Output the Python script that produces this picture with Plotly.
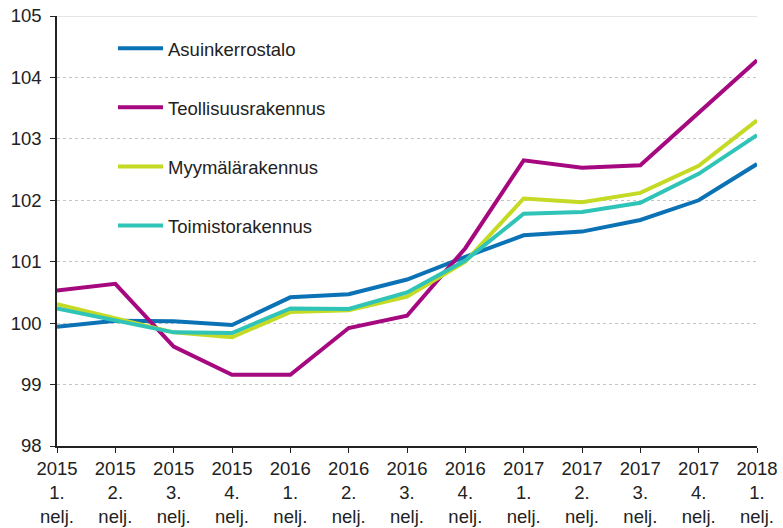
import plotly.graph_objects as go

quarters = ["2015<br>1.<br>nelj.", "2015<br>2.<br>nelj.", "2015<br>3.<br>nelj.", "2015<br>4.<br>nelj.",
            "2016<br>1.<br>nelj.", "2016<br>2.<br>nelj.", "2016<br>3.<br>nelj.", "2016<br>4.<br>nelj.",
            "2017<br>1.<br>nelj.", "2017<br>2.<br>nelj.", "2017<br>3.<br>nelj.", "2017<br>4.<br>nelj.",
            "2018<br>1.<br>nelj."]

asuinkerrostalo = [99.94, 100.04, 100.03, 99.97, 100.42, 100.47, 100.71, 101.08, 101.43, 101.49, 101.68, 102.00, 102.59]
teollisuusrakennus = [100.53, 100.64, 99.62, 99.16, 99.16, 99.92, 100.12, 101.22, 102.65, 102.53, 102.57, 103.42, 104.28]
myymalarakennus = [100.31, 100.08, 99.85, 99.77, 100.18, 100.21, 100.43, 101.00, 102.03, 101.97, 102.12, 102.56, 103.30]
toimistorakennus = [100.24, 100.05, 99.85, 99.84, 100.24, 100.23, 100.50, 101.02, 101.78, 101.81, 101.96, 102.43, 103.06]

series = [
    ("Asuinkerrostalo", asuinkerrostalo, "#0b72b5"),
    ("Teollisuusrakennus", teollisuusrakennus, "#a5087f"),
    ("Myymälärakennus", myymalarakennus, "#c4da24"),
    ("Toimistorakennus", toimistorakennus, "#30c3b8"),
]

fig = go.Figure()
for name, vals, col in series:
    fig.add_trace(go.Scatter(x=quarters, y=vals, name=name, mode="lines",
                             line=dict(color=col, width=4), legendgroup=name))

font = dict(family="Liberation Sans, Arial, sans-serif", size=18.5, color="#222222")

fig.update_layout(
    width=783, height=528,
    margin=dict(l=57, r=26, t=16, b=82),
    paper_bgcolor="white", plot_bgcolor="white",
    font=font,
    showlegend=True,
    legend=dict(x=0.08, y=0.968, xanchor="left", yanchor="top", itemwidth=45,
                bgcolor="rgba(0,0,0,0)", tracegroupgap=32,
                font=font),
    xaxis=dict(type="category", range=[0, 12], showline=True, linecolor="#222222", linewidth=1.5,
               ticks="outside", ticklen=5, tickcolor="#222222", showgrid=False,
               tickfont=font, automargin=False),
    yaxis=dict(range=[98, 105], dtick=1, showline=True, linecolor="#222222", linewidth=1.5,
               ticks="outside", ticklen=5, tickcolor="#222222", showgrid=True,
               gridcolor="#c4c4c4", griddash="dot", gridwidth=1, zeroline=False,
               tickfont=font, automargin=False, ticklabelstandoff=5),
    shapes=[dict(type="line", xref="paper", x0=0, x1=1, yref="y", y0=105, y1=105,
                 line=dict(color="#dddddd", width=1.5), layer="below")],
)

fig.write_html("out.html", config={"displayModeBar": False},
               post_script="document.body.style.margin='0';")
